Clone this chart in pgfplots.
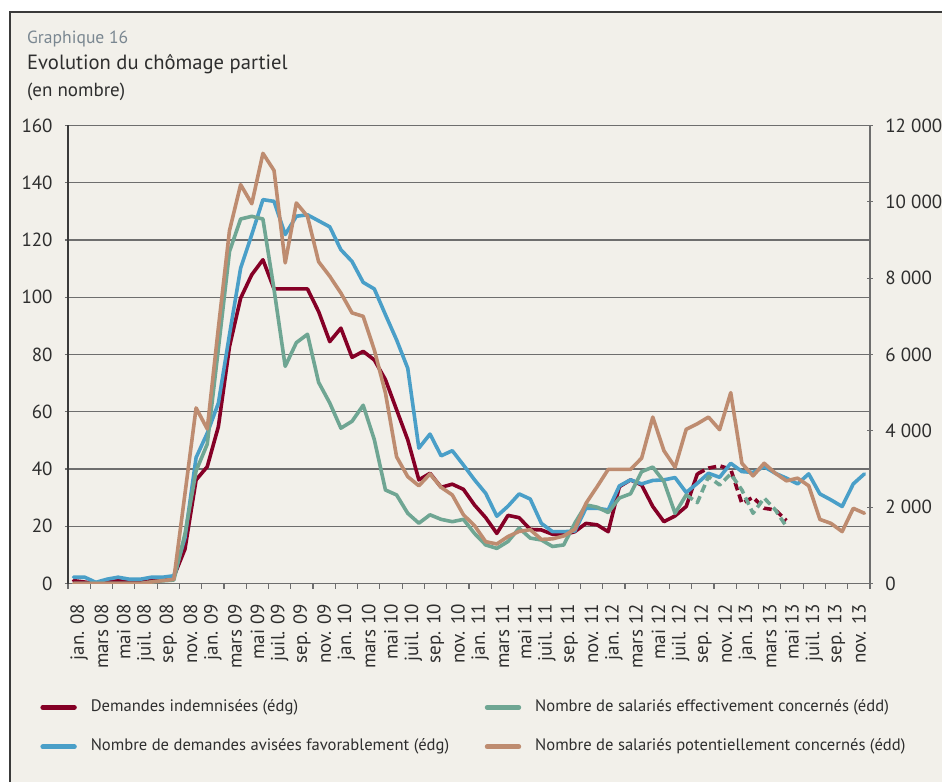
\documentclass[border=0pt]{standalone}
\usepackage{pgfplots}
\pgfplotsset{compat=1.18}
\usepackage{pgfplotstable}
\usepackage{fontspec}
\setmainfont{PT Sans}
\definecolor{bgcol}{HTML}{F2F0EA}
\definecolor{framecol}{HTML}{3A3A3A}
\definecolor{txtcol}{HTML}{2E2E2E}
\definecolor{subcol}{HTML}{7A8791}
\definecolor{gridcol}{HTML}{6E6E6E}
\definecolor{redc}{HTML}{850026}
\definecolor{bluec}{HTML}{4A9FC8}
\definecolor{greenc}{HTML}{6FA693}
\definecolor{tanc}{HTML}{BE8C70}

% Demandes indemnisees (left axis), solid part
\pgfplotstableread{
i v
0 1.0
1 0.5
2 0.0
3 0.5
4 1.0
5 0.5
6 0.5
7 1.0
8 1.5
9 2.4
10 12.0
11 36.2
12 40.8
13 54.8
14 82.8
15 99.7
16 107.9
17 113.1
18 102.9
19 102.9
20 102.9
21 102.9
22 95.0
23 84.5
24 89.2
25 79.0
26 81.1
27 78.1
28 71.2
29 60.7
30 50.2
31 36.2
32 38.5
33 33.6
34 34.7
35 32.9
36 27.4
37 23.0
38 17.5
39 23.8
40 23.0
41 18.9
42 18.7
43 17.2
44 17.0
45 18.1
46 21.0
47 20.5
48 18.1
49 33.8
50 36.2
51 34.4
52 26.9
53 21.6
54 23.6
55 26.9
56 38.3
}\redsolid
% Demandes indemnisees, provisional (dashed)
\pgfplotstableread{
i v
56 38.3
57 40.3
58 41.1
59 39.9
60 28.0
61 30.1
62 26.3
63 25.7
64 22.0
}\reddash
% Demandes avisees favorablement (left axis)
\pgfplotstableread{
i v
0 2.2
1 2.2
2 0.4
3 1.5
4 2.2
5 1.5
6 1.5
7 2.2
8 2.2
9 2.7
10 16.0
11 44.0
12 52.5
13 63.0
14 87.0
15 110.2
16 121.9
17 134.1
18 133.5
19 121.9
20 128.3
21 128.8
22 126.7
23 124.6
24 116.6
25 112.5
26 105.2
27 102.9
28 93.9
29 85.1
30 75.2
31 47.3
32 52.2
33 44.6
34 46.4
35 41.4
36 36.2
37 31.5
38 23.5
39 27.0
40 31.3
41 29.5
42 21.0
43 18.1
44 18.1
45 18.3
46 26.3
47 26.3
48 25.7
49 34.1
50 36.2
51 34.8
52 36.0
53 36.2
54 37.0
55 31.8
56 35.0
57 38.5
58 37.1
59 42.0
60 39.1
61 38.8
62 40.8
63 38.5
64 36.8
65 34.8
66 38.3
67 31.3
68 29.2
69 26.9
70 34.8
71 38.3
}\blue
% Salaries effectivement concernes (right axis), solid part
\pgfplotstableread{
i v
0 0
1 0
2 0
3 0
4 0
5 0
6 0
7 40
8 70
9 90
10 1300
11 2950
12 3650
13 6150
14 8700
15 9550
16 9620
17 9550
18 7700
19 5690
20 6310
21 6530
22 5270
23 4730
24 4070
25 4250
26 4670
27 3770
28 2450
29 2320
30 1840
31 1580
32 1800
33 1680
34 1620
35 1680
36 1310
37 1010
38 920
39 1100
40 1450
41 1190
42 1140
43 970
44 1010
45 1580
46 2060
47 2000
48 1860
49 2240
50 2350
51 2930
52 3050
53 2670
54 1840
55 2320
}\greensolid
% Salaries effectivement concernes, provisional (dashed)
\pgfplotstableread{
i v
55 2320
56 2120
57 2800
58 2580
59 2870
60 2450
61 1840
62 2240
63 1930
64 1490
}\greendash
% Salaries potentiellement concernes (right axis)
\pgfplotstableread{
i v
0 0
1 0
2 0
3 0
4 0
5 0
6 0
7 40
8 75
9 110
10 2350
11 4600
12 4050
13 6700
14 9250
15 10450
16 9950
17 11270
18 10820
19 8400
20 9970
21 9620
22 8430
23 8050
24 7610
25 7090
26 7000
27 6120
28 4990
29 3320
30 2800
31 2560
32 2870
33 2520
34 2320
35 1800
36 1515
37 1095
38 1035
39 1230
40 1365
41 1410
42 1155
43 1170
44 1245
45 1420
46 2100
47 2535
48 2990
49 2990
50 2990
51 3285
52 4360
53 3480
54 3045
55 4040
56 4185
57 4360
58 4030
59 5000
60 3150
61 2820
62 3150
63 2890
64 2690
65 2760
66 2560
67 1680
68 1575
69 1360
70 1970
71 1840
}\tan

\pgfplotsset{
  basestyle/.style={
    at={(34pt,99.25pt)}, anchor=south west,
    scale only axis, width=401pt, height=229pt,
    xmin=-0.5, xmax=71.5,
    tick label style={font=\fontsize{9.5}{11}\selectfont, text=txtcol},
    scaled y ticks=false,
    /pgf/number format/fixed,
    /pgf/number format/assume math mode=true,
    /pgf/number format/1000 sep={\ },
    ytick align=center, major tick length=3pt,
    every tick/.style={gridcol, line width=0.6pt},
  },
  serie/.style={line width=1.8pt, line join=round, line cap=round},
  dashserie/.style={line width=1.8pt, line join=round, line cap=butt, dash pattern=on 4pt off 2.2pt},
}

\begin{document}
\begin{tikzpicture}
\path[use as bounding box] (0,0) rectangle (471pt,391pt);
\fill[white] (0,0) rectangle (471pt,391pt);
\fill[bgcol] (5pt,0) rectangle (471pt,385pt);
\draw[framecol, line width=1pt] (5pt,0) -- (5pt,385pt) -- (471pt,385pt);

\node[anchor=base west, inner sep=0pt, text=subcol, font=\fontsize{8.8}{10}\selectfont] at (13.4pt,369pt) {Graphique 16};
\node[anchor=base west, inner sep=0pt, text=txtcol, font=\fontsize{10.3}{12}\selectfont] at (13.4pt,356pt) {Evolution du chômage partiel};
\node[anchor=base west, inner sep=0pt, text=txtcol, font=\fontsize{9.5}{11}\selectfont] at (13.4pt,342.6pt) {(en nombre)};

\begin{axis}[
  basestyle,
  ymin=0, ymax=160,
  axis x line*=bottom, axis y line*=left,
  x axis line style={gridcol, line width=0.6pt},
  y axis line style={framecol, line width=0.6pt},
  ytick={0,20,...,160},
  ymajorgrids, grid style={gridcol, line width=0.6pt},
  yticklabel style={anchor=east, inner sep=0pt},
  yticklabel shift=6pt,
  xtick={0.5,2.5,...,70.5},
  xticklabels={jan. 08, mars 08, mai 08, juil. 08, sep. 08, nov. 08,
               jan. 09, mars 09, mai 09, juil. 09, sep. 09, nov. 09,
               jan. 10, mars 10, mai 10, juil. 10, sep. 10, nov. 10,
               jan. 11, mars 11, mai 11, juil. 11, sep. 11, nov. 11,
               jan. 12, mars 12, mai 12, juil. 12, sep. 12, nov. 12,
               jan. 13, mars 13, mai 13, juil. 13, sep. 13, nov. 13},
  xtick align=outside,
  major x tick style={draw=none},
  minor xtick={-0.5,1.5,...,71.5},
  minor tick length=2.5pt,
  minor x tick style={gridcol, line width=0.6pt},
  xticklabel style={rotate=90, anchor=east, inner sep=0pt},
  xticklabel shift=7pt,
  legend columns=2, transpose legend,
  legend cell align=left,
  legend style={at={(rel axis cs:0,0)}, anchor=north west, xshift=-14pt, yshift=-57.5pt,
    draw=none, fill=none, inner sep=0pt, row sep=11.2pt, column sep=7pt,
    font=\fontsize{8.3}{10}\selectfont, text=txtcol,
    nodes={inner sep=0pt, text height=6.3pt, text depth=2.2pt}},
  legend image code/.code={\draw[#1, line width=2.4pt, line cap=round, solid] (0.6pt,0pt) -- (16.4pt,0pt);},
]
\addplot[serie, redc] table[x=i, y=v] {\redsolid};
\addlegendentry{\makebox[190pt][l]{Demandes indemnisées (édg)}}
\addplot[dashserie, redc, forget plot] table[x=i, y=v] {\reddash};
\addplot[serie, bluec] table[x=i, y=v] {\blue};
\addlegendentry{\makebox[190pt][l]{Nombre de demandes avisées favorablement (édg)}}
\addlegendimage{serie, greenc}
\addlegendentry{Nombre de salariés effectivement concernés (édd)}
\addlegendimage{serie, tanc}
\addlegendentry{Nombre de salariés potentiellement concernés (édd)}
\end{axis}

\begin{axis}[
  basestyle,
  ymin=0, ymax=12000,
  axis x line=none, axis y line*=right,
  y axis line style={gridcol, line width=0.6pt},
  ytick={0,2000,...,12000},
  yticklabel style={anchor=west, inner sep=0pt},
  yticklabel shift=6pt,
]
\addplot[serie, greenc] table[x=i, y=v] {\greensolid};
\addplot[dashserie, greenc] table[x=i, y=v] {\greendash};
\addplot[serie, tanc] table[x=i, y=v] {\tan};
\end{axis}
\end{tikzpicture}
\end{document}
